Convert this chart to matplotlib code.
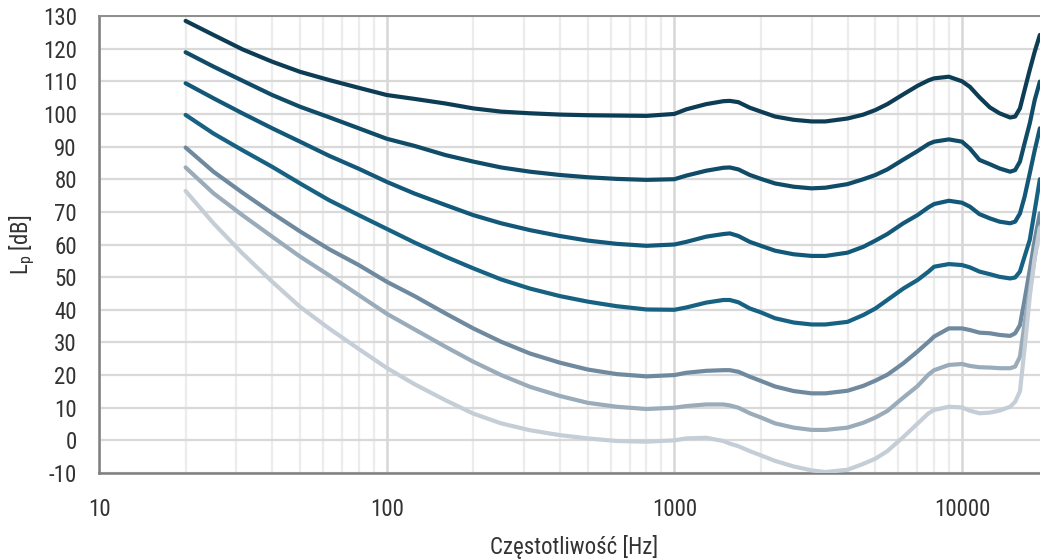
import matplotlib
matplotlib.use("Agg")
import matplotlib.pyplot as plt
from matplotlib import font_manager
from matplotlib.ticker import FixedLocator, NullFormatter

freq = [20, 25, 31.5, 40, 50, 63, 80, 100, 125, 160, 200, 250, 315, 400, 500,
        630, 800, 1000,
        1100, 1290, 1480, 1560, 1670, 1830, 2000, 2240, 2600, 3000, 3350, 4000,
        4540, 5000, 5500, 6250, 7000, 7650, 8000,
        9000, 10000,
        10650, 11500, 12500, 13500, 14700, 15300, 15900, 16500, 17200, 17900, 18650]

phon_100 = [128.5, 124.2, 119.8, 116.0, 112.9, 110.4, 108.0, 105.8, 104.6, 103.2,
            101.7, 100.7, 100.2, 99.8, 99.6, 99.5, 99.4, 100.0,
            101.4, 103.0, 103.9, 104.0, 103.6, 101.9, 100.7, 99.2, 98.2, 97.7,
            97.7, 98.6, 99.8, 101.2, 103.0, 106.0, 108.6, 110.3, 110.9,
            111.4, 110.0,
            108.3, 105.1, 102.0, 100.2, 98.9, 99.2, 101.7, 107.3, 113.5, 119.1, 124.2]
phon_80 = [118.9, 114.5, 110.2, 105.8, 102.2, 99.0, 95.6, 92.4, 90.2, 87.4,
           85.4, 83.6, 82.3, 81.3, 80.6, 80.1, 79.8, 80.0,
           81.1, 82.6, 83.5, 83.6, 83.0, 81.3, 80.1, 78.7, 77.7, 77.2,
           77.4, 78.5, 80.0, 81.3, 83.0, 86.0, 88.6, 90.8, 91.5,
           92.2, 91.5,
           89.4, 85.9, 84.6, 83.3, 82.3, 82.8, 85.4, 91.0, 97.1, 104.3, 109.9]
phon_60 = [109.4, 104.8, 100.2, 95.6, 91.5, 87.2, 83.2, 79.2, 75.6, 72.1,
           69.0, 66.5, 64.4, 62.6, 61.2, 60.2, 59.6, 60.0,
           60.8, 62.4, 63.2, 63.4, 62.6, 60.8, 59.6, 58.1, 57.0, 56.5,
           56.5, 57.5, 59.3, 61.2, 63.2, 66.5, 69.0, 71.4, 72.4,
           73.4, 72.8,
           71.6, 69.3, 68.0, 67.0, 66.5, 67.0, 69.5, 74.6, 81.8, 88.9, 95.6]
phon_40 = [99.7, 94.0, 88.9, 83.8, 78.7, 73.6, 69.0, 64.8, 60.6, 56.3,
           52.7, 49.3, 46.5, 44.2, 42.5, 41.1, 40.1, 40.0,
           40.7, 42.2, 43.0, 43.0, 42.3, 40.4, 39.2, 37.4, 36.1, 35.5,
           35.5, 36.3, 38.4, 40.4, 43.0, 46.5, 49.1, 51.7, 53.2,
           54.0, 53.7,
           53.0, 51.7, 50.9, 50.1, 49.6, 49.9, 51.7, 56.3, 61.4, 70.5, 80.0]
phon_20 = [89.7, 82.3, 75.9, 69.6, 64.0, 58.6, 53.7, 48.6, 44.2, 38.9,
           34.3, 30.2, 26.6, 23.8, 21.7, 20.3, 19.6, 20.0,
           20.7, 21.3, 21.5, 21.5, 21.0, 19.5, 18.2, 16.5, 15.1, 14.4,
           14.4, 15.2, 16.7, 18.3, 20.1, 23.6, 27.2, 30.2, 31.8,
           34.3, 34.3,
           33.8, 33.0, 32.8, 32.3, 32.0, 32.8, 35.3, 43.0, 52.2, 61.4, 69.6]
phon_10 = [83.6, 75.7, 69.0, 62.4, 56.3, 50.6, 44.5, 38.8, 34.0, 28.7,
           24.1, 20.0, 16.4, 13.6, 11.5, 10.3, 9.6, 10.0,
           10.5, 11.0, 11.0, 10.7, 10.0, 8.3, 7.0, 5.2, 3.9, 3.2,
           3.2, 3.9, 5.4, 7.0, 9.0, 13.1, 16.6, 20.2, 21.5,
           23.1, 23.4,
           22.8, 22.4, 22.3, 22.1, 22.1, 22.6, 25.6, 35.8, 46.0, 56.0, 65.5]
phon_0 = [76.4, 66.5, 57.3, 48.6, 40.9, 34.3, 28.0, 22.2, 17.2, 12.3,
          8.2, 5.2, 3.1, 1.6, 0.6, -0.2, -0.4, 0.0,
          0.6, 0.8, -0.2, -1.0, -1.8, -3.3, -4.6, -6.3, -8.0, -9.2,
          -9.7, -9.0, -7.2, -5.6, -3.3, 1.0, 5.1, 8.3, 9.3,
          10.3, 10.1,
          9.1, 8.3, 8.5, 9.1, 10.3, 11.8, 15.0, 28.0, 44.0, 56.0, 65.0]

series = [phon_100, phon_80, phon_60, phon_40, phon_20, phon_10, phon_0]
colors = ["#0c3d55", "#104c68", "#135879", "#176283", "#6f899f", "#9aabba", "#c5ced7"]

y_ticks = list(range(-10, 131, 10))
x_ticks = [10, 100, 1000, 10000]
x_labels = ["10", "100", "1000", "10000"]


def narrow_font():
    # the original uses a narrow sans; take one if any is installed
    fonts = [f for f in font_manager.fontManager.ttflist
             if f.style == "normal" and f.weight in (400, "normal", "regular")]
    for want in ("Liberation Sans Narrow", "Arial Narrow", "Roboto Condensed",
                 "Open Sans Condensed", "Noto Sans Condensed"):
        for f in fonts:
            if f.name == want:
                return f.name, f.stretch
    for f in fonts:
        if "narrow" in f.name.lower() or "condensed" in f.name.lower():
            return f.name, f.stretch
    for f in fonts:
        if f.name in ("Noto Sans", "Open Sans", "Roboto") and f.stretch == "condensed":
            return f.name, f.stretch
    return "Liberation Sans", "normal"


fname, fstretch = narrow_font()
plt.rcParams["font.family"] = [fname, "DejaVu Sans"]
plt.rcParams["font.stretch"] = fstretch
plt.rcParams["mathtext.fontset"] = "custom"
plt.rcParams["mathtext.rm"] = fname
plt.rcParams["mathtext.it"] = fname

txt = "#333333"
fig = plt.figure(figsize=(10.4, 5.6), dpi=100)
ax = fig.add_axes([99 / 1040, 87 / 560, 949.6 / 1040, 457 / 560])

for vals, c in zip(series, colors):
    ax.plot(freq, vals, color=c, lw=3, solid_capstyle="round", solid_joinstyle="round", zorder=3)

ax.set_xscale("log")
ax.set_xlim(10, 20000)
ax.set_ylim(-10, 130)
ax.xaxis.set_major_locator(FixedLocator(x_ticks))
ax.set_xticklabels(x_labels)
ax.xaxis.set_minor_locator(FixedLocator([m * d for d in (10, 100, 1000, 10000) for m in range(2, 10)]))
ax.xaxis.set_minor_formatter(NullFormatter())
ax.set_yticks(y_ticks)
ax.set_yticklabels([str(v) for v in y_ticks])

ax.set_axisbelow(True)
ax.grid(which="major", axis="y", color="#d9d9d9", lw=1.6)
ax.grid(which="major", axis="x", color="#d6d6d6", lw=1.8)
ax.grid(which="minor", axis="x", color="#ececec", lw=1.6)

ax.tick_params(which="both", length=0)
ax.tick_params(axis="y", pad=16, labelsize=16.5, labelcolor=txt)
ax.tick_params(axis="x", pad=18, labelsize=16.5, labelcolor=txt)

for s in ("left", "bottom"):
    ax.spines[s].set_color("#7f7f7f")
    ax.spines[s].set_linewidth(1.8)
ax.spines["top"].set_color("#8c8c8c")
ax.spines["top"].set_linewidth(1.4)
ax.spines["right"].set_visible(False)

ax.set_xlabel("Częstotliwość [Hz]", fontsize=16.5, color=txt, labelpad=10)
fig.text(22 / 1040, 1 - 245 / 560, r"L$_{\mathregular{p}}$ [dB]", fontsize=16.5, color=txt,
         rotation=90, ha="center", va="center")

fig.savefig("out.png", dpi=100)
